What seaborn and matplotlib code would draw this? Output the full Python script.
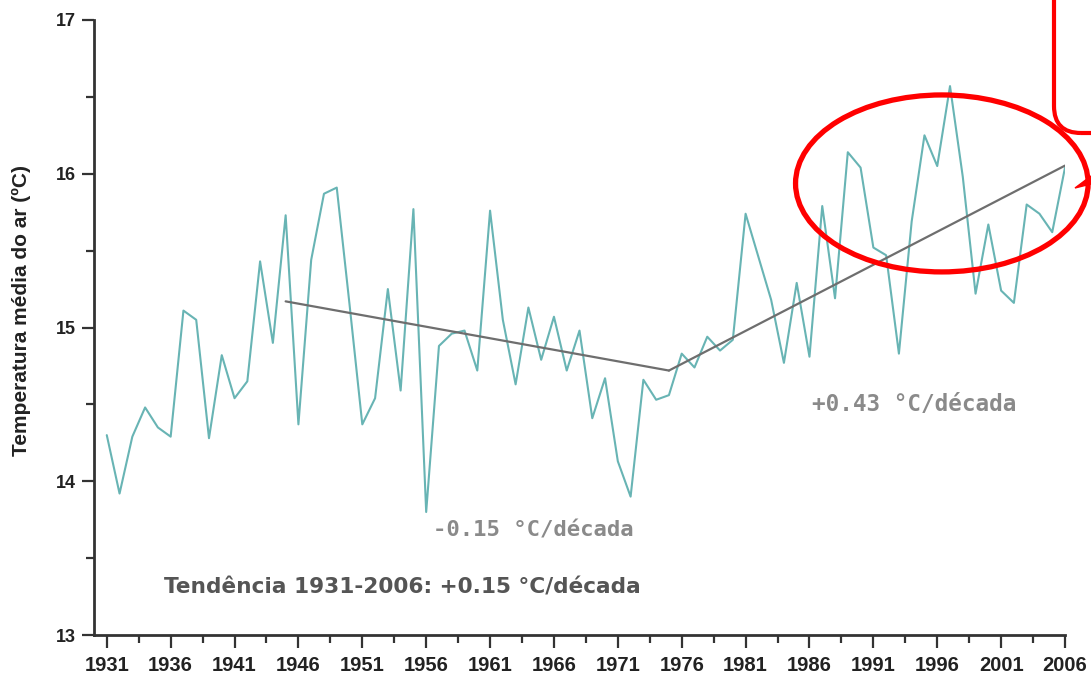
import numpy as np
import pandas as pd
import matplotlib
matplotlib.use("Agg")
import matplotlib.pyplot as plt
from matplotlib.patches import Ellipse, FancyBboxPatch, Polygon
from matplotlib.transforms import IdentityTransform
from matplotlib.ticker import FixedLocator
import seaborn as sns

# Annual mean air temperature (°C)
years = list(range(1931, 2007))
temperature = [
    14.30, 13.92, 14.29, 14.48, 14.35, 14.29, 15.11, 15.05, 14.28, 14.82,
    14.54, 14.65, 15.43, 14.90, 15.73, 14.37, 15.44, 15.87, 15.91, 15.15,
    14.37, 14.54, 15.25, 14.59, 15.77, 13.80, 14.88, 14.96, 14.98, 14.72,
    15.76, 15.05, 14.63, 15.13, 14.79, 15.07, 14.72, 14.98, 14.41, 14.67,
    14.13, 13.90, 14.66, 14.53, 14.56, 14.83, 14.74, 14.94, 14.85, 14.92,
    15.74, 15.46, 15.18, 14.77, 15.29, 14.81, 15.79, 15.19, 16.14, 16.04,
    15.52, 15.47, 14.83, 15.69, 16.25, 16.05, 16.57, 15.98, 15.22, 15.67,
    15.24, 15.16, 15.80, 15.74, 15.62, 16.04,
]

# Piecewise linear trends (rate in °C per decade)
trend_a_years = [1945, 1975]
trend_a_start = 15.17
trend_a_rate = -0.15
trend_b_years = [1975, 2006]
trend_b_start = 14.72
trend_b_rate = 0.43

x_major = list(range(1931, 2007, 5))
y_major = [13, 14, 15, 16, 17]

sns.set_style("ticks")
plt.rcParams["font.family"] = ["Liberation Sans", "DejaVu Sans"]

fig = plt.figure(figsize=(10.91, 6.75), dpi=100)
ax = fig.add_axes([94 / 1091, 1 - 635 / 675, (1065 - 94) / 1091, 615 / 675])

df = pd.DataFrame({"ano": years, "temp": temperature})
sns.lineplot(data=df, x="ano", y="temp", ax=ax, color="#68b4b4", lw=1.5)


def trend_frame(yrs, start, rate):
    vals = [start + rate / 10 * (y - yrs[0]) for y in yrs]
    return pd.DataFrame({"ano": yrs, "temp": vals})


for yrs, start, rate in [(trend_a_years, trend_a_start, trend_a_rate),
                         (trend_b_years, trend_b_start, trend_b_rate)]:
    sns.lineplot(data=trend_frame(yrs, start, rate), x="ano", y="temp",
                 ax=ax, color="#6e6e6e", lw=1.6)

ax.set_xlim(1930, 2006)
ax.set_ylim(13, 17)
ax.xaxis.set_major_locator(FixedLocator(x_major))
ax.xaxis.set_minor_locator(FixedLocator(np.arange(1933.5, 2006, 5)))
ax.yaxis.set_major_locator(FixedLocator(y_major))
ax.yaxis.set_minor_locator(FixedLocator(np.arange(13.5, 17, 1)))
ax.set_xticklabels([str(v) for v in x_major])
ax.set_yticklabels([str(v) for v in y_major])

for side in ["top", "right"]:
    ax.spines[side].set_visible(False)
for side in ["left", "bottom"]:
    ax.spines[side].set_color("#333333")
    ax.spines[side].set_linewidth(2)

ax.tick_params(axis="both", which="major", length=9, width=1.6, color="#333333", pad=4)
ax.tick_params(axis="x", which="major", pad=6)
ax.tick_params(axis="both", which="minor", length=5.5, width=1.6, color="#333333")
for lbl in ax.get_xticklabels():
    lbl.set_family(["Liberation Sans Narrow", "Liberation Sans", "DejaVu Sans"])
    lbl.set_fontsize(14.5)
    lbl.set_fontweight("bold")
    lbl.set_color("#222222")
for lbl in ax.get_yticklabels():
    lbl.set_fontsize(13)
    lbl.set_fontweight("bold")
    lbl.set_color("#222222")

ax.set_xlabel("")
ax.set_ylabel("Temperatura média do ar (ºC)", fontsize=15, fontweight="bold",
              color="#222222")
ax.yaxis.set_label_coords(-0.065, 0.528)

mono = ["DejaVu Sans Mono"]
ax.text(1986.2, 14.50, "+0.43 °C/década", family=mono, fontsize=16.3,
        fontweight="bold", color="#8a8a8a", va="center", ha="left")
ax.text(1956.5, 13.68, "-0.15 °C/década", family=mono, fontsize=16,
        fontweight="bold", color="#8a8a8a", va="center", ha="left")
ax.text(1935.5, 13.31, "Tendência 1931-2006: +0.15 °C/década",
        family=["DejaVu Sans"], fontsize=15.6, fontweight="bold",
        color="#555555", va="center", ha="left")

# Highlight of the warmest recent years
ax.add_patch(Ellipse((1996.36, 15.937), 22.9, 1.151, fill=False,
                     edgecolor="#ff0000", lw=3.8, clip_on=False, zorder=5))

# Callout box in the upper right corner
H = 675
fig.add_artist(FancyBboxPatch((1054, H - 133), 120, 220,
                              boxstyle="round,pad=0,rounding_size=27",
                              fill=False, edgecolor="#ff0000", lw=3,
                              transform=IdentityTransform()))
fig.add_artist(Polygon([(1091, H - 176), (1075, H - 188), (1091, H - 184)],
                       closed=True, facecolor="#ff0000", edgecolor="#ff0000",
                       lw=1, transform=IdentityTransform()))

fig.savefig("out.png", dpi=100)
